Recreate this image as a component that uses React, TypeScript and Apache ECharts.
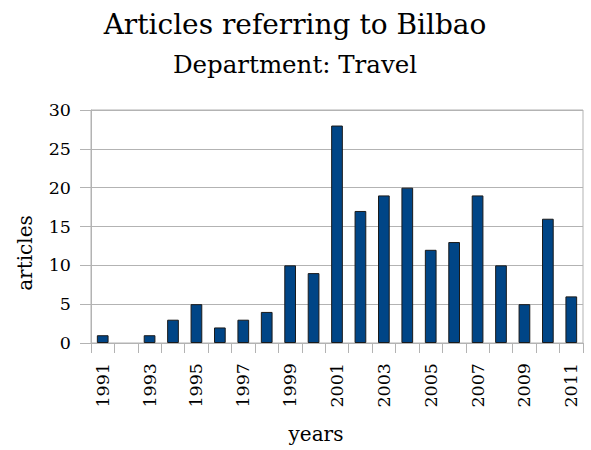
import React, { useEffect, useRef } from "react";
import * as echarts from "echarts";

const years = ["1991","1992","1993","1994","1995","1996","1997","1998","1999","2000","2001","2002","2003","2004","2005","2006","2007","2008","2009","2010","2011"];
const articles = [1,0,1,3,5,2,3,4,10,9,28,17,19,20,12,13,19,10,5,16,6];
const titleText = "Articles referring to Bilbao";
const subtitleText = "Department: Travel";
const xName = "years";
const yName = "articles";

const FONT = "'DejaVu Serif', serif";

export default function App() {
  const ref = useRef<HTMLDivElement>(null);
  useEffect(() => {
    if (!ref.current) return;
    const chart = echarts.init(ref.current, null, { renderer: "svg" });
    chart.setOption({
      animation: false,
      backgroundColor: "#ffffff",
      textStyle: { fontFamily: FONT },
      graphic: [
        { type: "text", x: 295, y: 24.5, style: { text: titleText, font: `28px ${FONT}`, fill: "#000", textAlign: "center", textVerticalAlign: "middle" } },
        { type: "text", x: 295, y: 64.5, style: { text: subtitleText, font: `24.5px ${FONT}`, fill: "#000", textAlign: "center", textVerticalAlign: "middle" } },
        { type: "text", x: 316, y: 433.5, style: { text: xName, font: `20px ${FONT}`, fill: "#000", textAlign: "center", textVerticalAlign: "middle" } },
        { type: "text", x: 24.5, y: 253, rotation: Math.PI / 2, style: { text: yName, font: `20px ${FONT}`, fill: "#000", textAlign: "center", textVerticalAlign: "middle" } },
      ],
      grid: { left: 91, right: 8, top: 110, bottom: 107, containLabel: false, outerBoundsMode: "none", show: true, borderColor: "#b3b3b3", borderWidth: 1 },
      xAxis: {
        type: "category",
        data: years,
        boundaryGap: true,
        axisLine: { show: true, lineStyle: { color: "#b3b3b3", width: 1 } },
        axisTick: { show: true, interval: 0, length: 10, lineStyle: { color: "#b3b3b3" } },
        axisLabel: { interval: 1, rotate: 90, margin: 20, fontSize: 17.5, color: "#000", fontFamily: FONT },
        splitLine: { show: false },
      },
      yAxis: {
        type: "value",
        min: 0,
        max: 30,
        interval: 5,
        axisLine: { show: true, lineStyle: { color: "#b3b3b3", width: 1 } },
        axisTick: { show: true, length: 11, lineStyle: { color: "#b3b3b3" } },
        axisLabel: { margin: 20, fontSize: 17.5, color: "#000", fontFamily: FONT },
        splitLine: { show: true, lineStyle: { color: "#b3b3b3", width: 1 } },
      },
      series: [
        {
          type: "bar",
          data: articles.map((v) => (v === 0 ? { value: v, itemStyle: { borderWidth: 0, opacity: 0 } } : v)),
          barWidth: "50%",
          itemStyle: { color: "#004586", borderColor: "#1a1a1a", borderWidth: 1 },
        },
      ],
    });
    return () => chart.dispose();
  }, []);
  return <div ref={ref} style={{ width: 591, height: 450, position: "absolute", left: 0, top: 0 }} />;
}
